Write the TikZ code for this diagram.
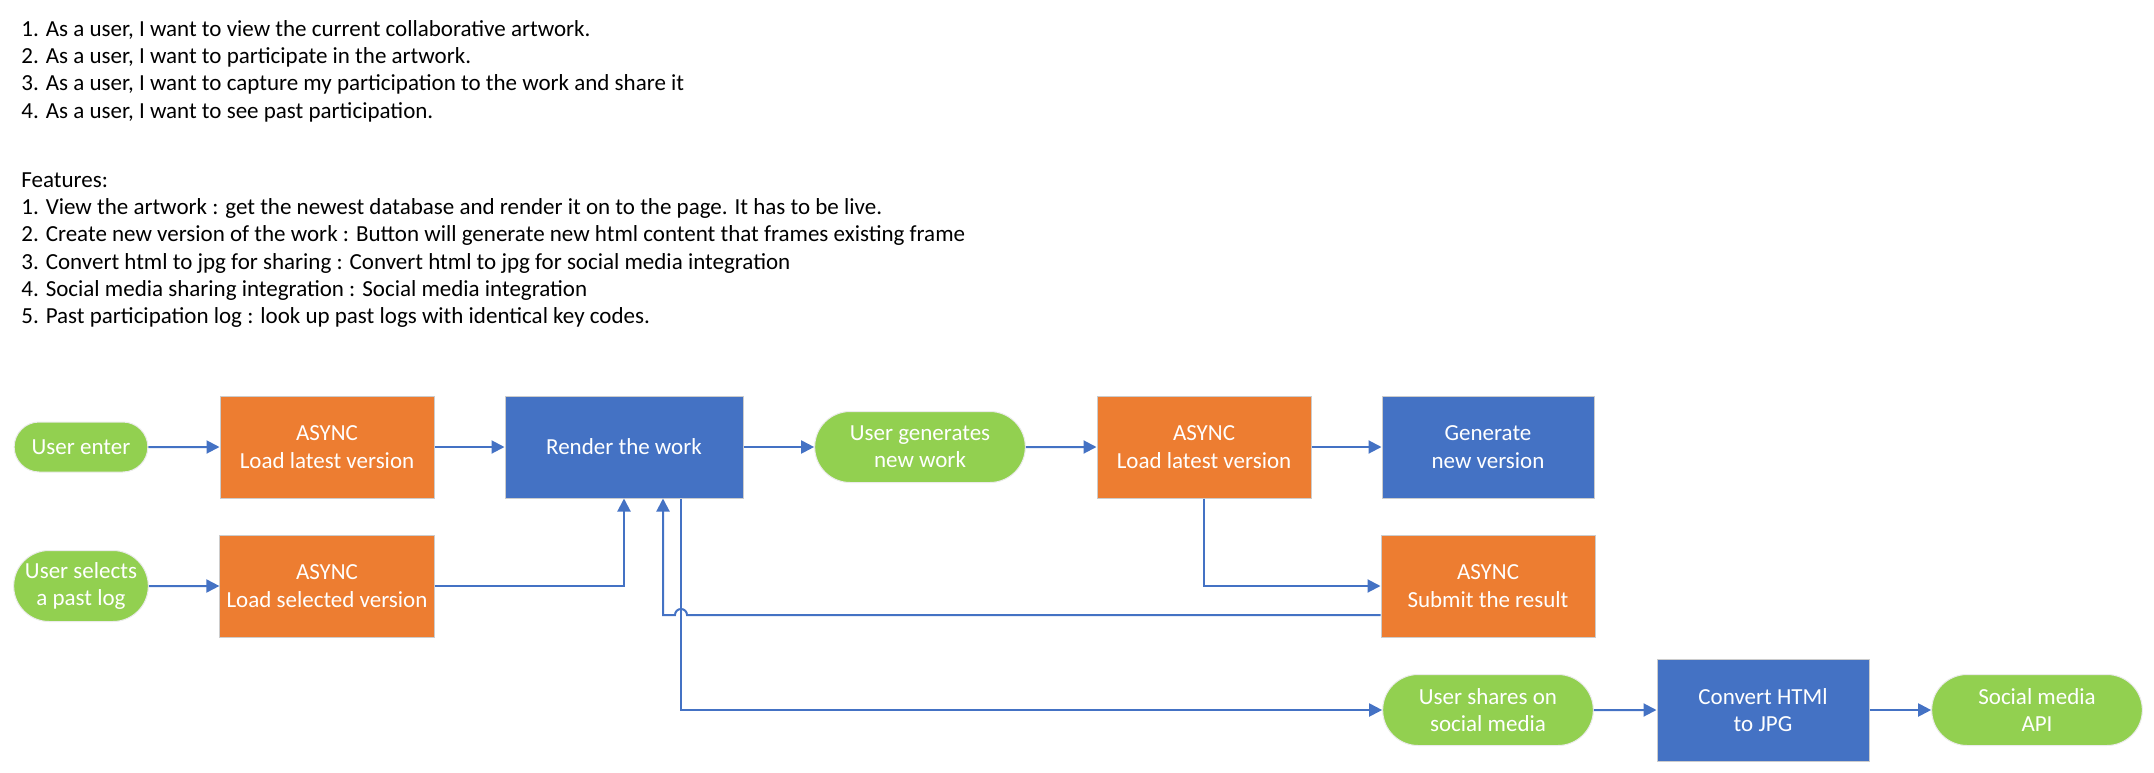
\documentclass[tikz,border=0pt]{standalone}
\usepackage{fontspec}
\setmainfont{Carlito}
\usetikzlibrary{arrows.meta,shapes.misc}

\definecolor{flowblue}{RGB}{68,114,196}
\definecolor{flowamber}{RGB}{237,125,49}
\definecolor{flowgreen}{RGB}{146,208,80}

\tikzset{
  txt/.style={font=\fontsize{11.5}{13.65}\selectfont},
  box/.style={txt, draw=black!20, line width=0.5pt, text=white, align=center, minimum height=51pt},
  async/.style={box, fill=flowamber, minimum width=107pt},
  task/.style={box, fill=flowblue, minimum width=106pt},
  pill/.style={txt, rounded rectangle, draw=black!8, line width=0.5pt, fill=flowgreen, text=white, align=center, minimum width=112pt, minimum height=35.5pt},
  link/.style={draw=flowblue, line width=1pt, ->}
}

\begin{document}
\begin{tikzpicture}[x=0.5pt, y=-0.5pt, >={Triangle[length=6.5pt,width=6.5pt]}]
\useasboundingbox (0,0) rectangle (2154,772);
\node[txt, anchor=north west, inner sep=0, align=left] (stories) at (21,20) {1. As a user, I want to view the current collaborative artwork.\\2. As a user, I want to participate in the artwork.\\3. As a user, I want to capture my participation to the work and share it\\4. As a user, I want to see past participation.};
\node[txt, anchor=north west, inner sep=0, align=left] (features) at (21,172) {Features:\\1. View the artwork : get the newest database and render it on to the page. It has to be live.\\2. Create new version of the work : Button will generate new html content that frames existing frame\\3. Convert html to jpg for sharing : Convert html to jpg for social media integration\\4. Social media sharing integration : Social media integration\\5. Past participation log : look up past logs with identical key codes.};
% first row
\node[pill, minimum width=73.5pt, minimum height=25pt] (enter) at (81,447) {User enter};
\node[async] (loadlatest) at (327,447) {ASYNC\\Load latest version};
\node[task, minimum width=119pt] (render) at (624,447) {Render the work};
\node[pill] (generates) at (920,447) {User generates\\new work};
\node[async] (loadnew) at (1204,447) {ASYNC\\Load latest version};
\node[task] (generate) at (1488,447) {Generate\\new version};
% second row
\node[pill, minimum width=74pt] (selects) at (81,586) {User selects\\a past log};
\node[async] (loadselected) at (327,586) {ASYNC\\Load selected version};
\node[async] (submit) at (1488,586) {ASYNC\\Submit the result};
% third row
\node[pill] (shares) at (1488,710) {User shares on\\social media};
\node[task] (convert) at (1763,710) {Convert HTMl\\to JPG};
\node[pill] (api) at (2037,710) {Social media\\API};
\coordinate (hop) at (681,615);
\draw[link] (enter) -- (loadlatest);
\draw[link] (loadlatest) -- (render);
\draw[link] (render) -- (generates);
\draw[link] (generates) -- (loadnew);
\draw[link] (loadnew) -- (generate);
\draw[link] (loadnew) |- (submit);
\draw[link] (selects) -- (loadselected);
\draw[link] (loadselected) -| (render);
\draw[link] (submit.west |- hop) -- ([xshift=3pt]hop) arc[start angle=0, end angle=180, radius=3pt] -| ([xshift=19.5pt]render.south);
\draw[link] ([xshift=28.5pt]render.south) |- (shares);
\draw[link] (shares) -- (convert);
\draw[link] (convert) -- (api);
\end{tikzpicture}
\end{document}
